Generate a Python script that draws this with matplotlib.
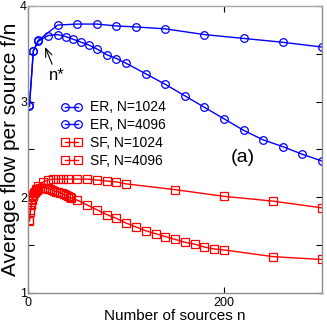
import numpy as np
import matplotlib
matplotlib.use("Agg")
import matplotlib.pyplot as plt
from matplotlib.ticker import FixedLocator

plt.rcParams['font.family'] = ['Liberation Sans Narrow', 'Liberation Sans', 'DejaVu Sans']

# ER networks (blue circles)
er1024_n = [1, 5, 10, 30, 50, 70, 90, 110, 140, 180, 220, 260, 300]
er1024_f = [2.96, 3.53, 3.64, 3.80, 3.81, 3.81, 3.79, 3.78, 3.76, 3.70, 3.66, 3.62, 3.57]

er4096_n = [1, 5, 10, 20, 30, 38, 46, 54, 62, 70, 80, 90, 100, 120, 140, 160, 180,
            200, 220, 240, 260, 280, 300]
er4096_f = [2.95, 3.53, 3.63, 3.69, 3.70, 3.68, 3.65, 3.62, 3.59, 3.55, 3.49, 3.45,
            3.40, 3.29, 3.18, 3.06, 2.94, 2.82, 2.70, 2.60, 2.53, 2.45, 2.38]

# SF networks (red squares)
sf1024_n = [1, 2, 3, 4, 5, 6, 8, 10, 15, 20, 25, 30, 35, 40, 50, 60, 70, 80, 90,
            100, 150, 200, 250, 300]
sf1024_f = [1.76, 1.87, 1.93, 1.98, 2.02, 2.05, 2.09, 2.12, 2.16, 2.18, 2.19, 2.19,
            2.19, 2.19, 2.19, 2.19, 2.18, 2.17, 2.16, 2.14, 2.08, 2.01, 1.96, 1.89]

sf4096_n = [1, 2, 3, 4, 5, 6, 7, 8, 9, 10, 12, 14, 16, 18, 20, 22, 24, 26, 28, 30,
            32, 34, 36, 38, 40, 42, 44, 50, 60, 70, 80, 90, 100, 110, 120, 130, 140,
            150, 160, 170, 180, 190, 200, 250, 300]
sf4096_f = [1.75, 1.85, 1.92, 1.97, 2.01, 2.04, 2.06, 2.07, 2.08, 2.09, 2.10, 2.10,
            2.10, 2.10, 2.09, 2.09, 2.08, 2.07, 2.06, 2.06, 2.05, 2.04, 2.03, 2.02,
            2.01, 2.00, 1.99, 1.97, 1.92, 1.87, 1.82, 1.78, 1.73, 1.69, 1.65, 1.62,
            1.59, 1.56, 1.53, 1.51, 1.48, 1.46, 1.45, 1.38, 1.35]

fig = plt.figure(figsize=(3.27, 3.27), dpi=100)
ax = fig.add_axes([0.087, 0.104, 0.897, 0.878])

mk = dict(markersize=5.5, markerfacecolor='none', markeredgewidth=0.9, lw=1)
ax.plot(er1024_n, er1024_f, '-o', color='#0000ff', label='ER, N=1024', **mk)
ax.plot(er4096_n, er4096_f, '-o', color='#0000ff', label='ER, N=4096', **mk)
ax.plot(sf1024_n, sf1024_f, '-s', color='#ff0000', label='SF, N=1024', **mk)
ax.plot(sf4096_n, sf4096_f, '-s', color='#ff0000', label='SF, N=4096', **mk)

ax.set_xlim(0, 300)
ax.set_ylim(1, 4)
ax.xaxis.set_major_locator(FixedLocator([0, 200]))
ax.yaxis.set_major_locator(FixedLocator([1, 2, 3, 4]))
ax.yaxis.set_minor_locator(FixedLocator([1.5, 2.5, 3.5]))
ax.tick_params(which='both', direction='in', top=True, right=True, labelsize=9,
               width=0.8, color='black', length=4)
ax.tick_params(axis='y', pad=1)
ax.tick_params(axis='x', pad=3)
for s in ax.spines.values():
    s.set_color('0.55')
    s.set_linewidth(1)
ax.spines['top'].set_color('0.65')

ax.set_xlabel('Number of sources n', fontsize=11, labelpad=0)
ax.set_ylabel('Average flow per source f/n', fontsize=15, labelpad=0)

# n* marker with arrow pointing at the ER maximum
ax.annotate('n*', xy=(17, 3.57), xytext=(29, 3.27), fontsize=12,
            ha='center', va='center',
            arrowprops=dict(arrowstyle='->,head_length=0.5,head_width=0.2',
                            color='black', lw=0.8, shrinkA=1, shrinkB=0))
ax.text(219, 2.42, '(a)', fontsize=14, ha='center', va='center')

ax.legend(loc='upper left', bbox_to_anchor=(0.09, 0.69), frameon=False,
          fontsize=10, numpoints=2, handlelength=1.6, handletextpad=0.5,
          labelspacing=0.28, borderaxespad=0)

fig.savefig('out.png', dpi=100)
